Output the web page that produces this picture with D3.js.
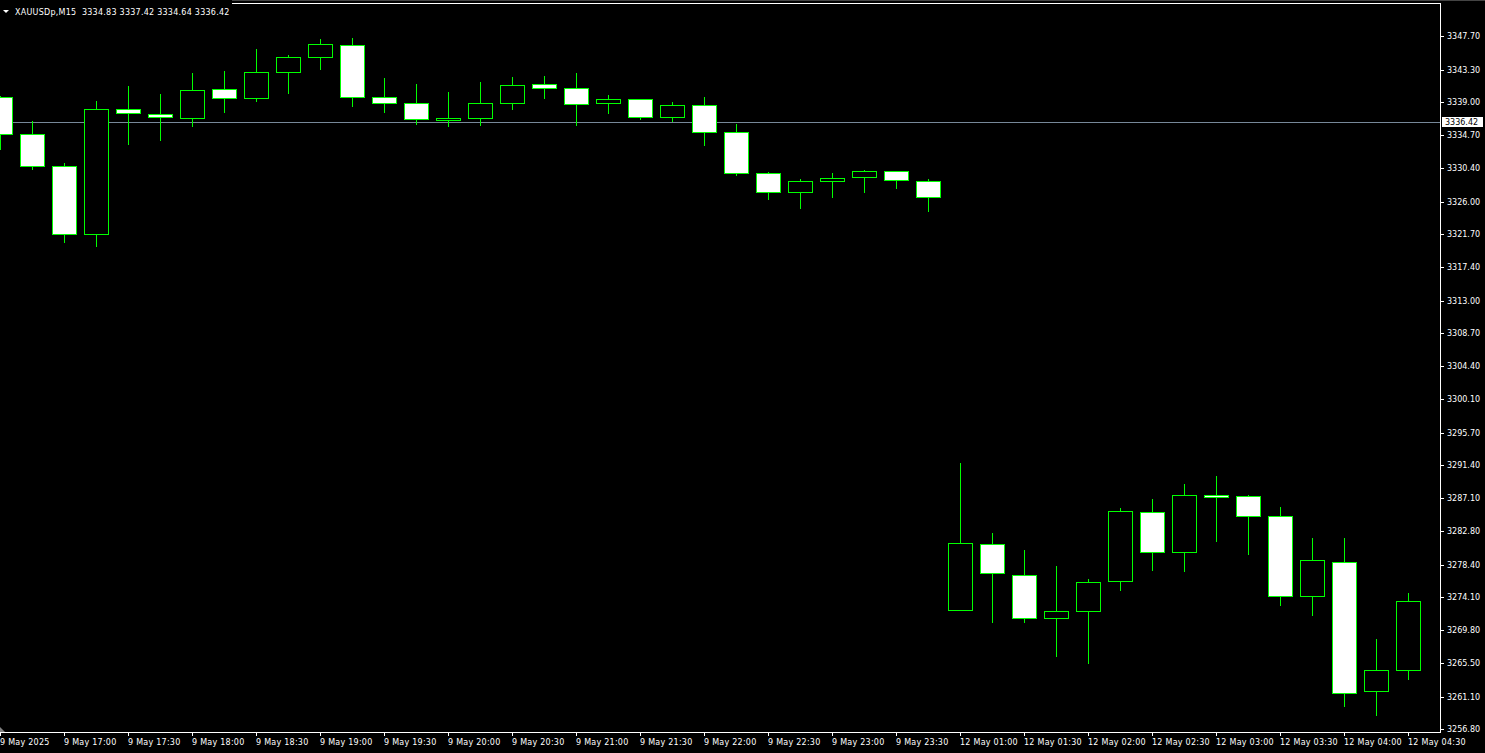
<!DOCTYPE html>
<html><head><meta charset="utf-8">
<script src="https://cdn.jsdelivr.net/npm/d3@7"></script>
<style>
html,body{margin:0;padding:0;background:#000;overflow:hidden}
svg{display:block}
text{font-family:"DejaVu Sans",sans-serif;font-size:8px;fill:#fff}
</style></head>
<body>
<script>
const symbol = "XAUUSDp,M15";
const headerOHLC = ["3334.83","3337.42","3334.64","3336.42"];
const currentPrice = 3336.42;

const times = [
 "9 May 16:30","9 May 16:45","9 May 17:00","9 May 17:15","9 May 17:30","9 May 17:45",
 "9 May 18:00","9 May 18:15","9 May 18:30","9 May 18:45","9 May 19:00","9 May 19:15",
 "9 May 19:30","9 May 19:45","9 May 20:00","9 May 20:15","9 May 20:30","9 May 20:45",
 "9 May 21:00","9 May 21:15","9 May 21:30","9 May 21:45","9 May 22:00","9 May 22:15",
 "9 May 22:30","9 May 22:45","9 May 23:00","9 May 23:15","9 May 23:30","9 May 23:45",
 "12 May 01:00","12 May 01:15","12 May 01:30","12 May 01:45","12 May 02:00","12 May 02:15",
 "12 May 02:30","12 May 02:45","12 May 03:00","12 May 03:15","12 May 03:30","12 May 03:45",
 "12 May 04:00","12 May 04:15","12 May 04:30"
];
const open = [
 3339.66,3334.81,3330.62,3321.70,3338.09,3337.43,3336.91,3340.71,3339.53,3342.94,3344.91,3346.48,
 3339.66,3338.88,3336.65,3336.91,3338.88,3341.37,3340.84,3338.88,3339.40,3337.04,3338.61,3335.07,
 3329.70,3327.21,3328.65,3329.17,3329.96,3328.65,
 3272.40,3281.06,3276.99,3271.35,3272.27,3276.20,3285.25,3280.01,3287.48,3287.35,3284.73,3274.24,
 3278.70,3261.78,3264.54
];
const high = [
 3339.83,3336.56,3331.01,3339.18,3341.14,3340.10,3342.85,3343.11,3346.00,3345.21,3347.31,3347.44,
 3342.19,3341.41,3340.36,3341.67,3342.32,3342.46,3342.85,3339.96,3339.40,3339.05,3339.70,3336.16,
 3329.83,3328.91,3329.70,3330.09,3329.96,3328.91,
 3291.72,3282.54,3280.31,3278.21,3276.51,3285.78,3286.96,3288.96,3290.01,3287.48,3285.91,3281.88,
 3281.88,3268.64,3274.63
];
const low = [
 3332.85,3330.30,3320.73,3320.21,3333.58,3334.10,3335.94,3337.77,3339.22,3340.27,3343.41,3338.56,
 3337.77,3336.20,3335.94,3336.07,3338.17,3339.61,3336.07,3337.64,3336.86,3336.60,3333.45,3329.51,
 3326.37,3325.19,3326.63,3327.29,3327.81,3324.80,
 3272.40,3270.91,3270.91,3266.45,3265.53,3275.10,3277.73,3277.60,3281.53,3279.82,3273.14,3271.83,
 3259.90,3258.72,3263.44
];
const close = [
 3334.81,3330.62,3321.70,3338.09,3337.57,3337.04,3340.58,3339.53,3342.94,3344.91,3346.61,3339.66,
 3338.88,3336.78,3336.91,3338.88,3341.24,3340.84,3338.75,3339.40,3337.04,3338.61,3335.07,3329.70,
 3327.21,3328.65,3329.04,3329.96,3328.78,3326.55,
 3281.19,3277.25,3271.35,3272.27,3276.07,3285.38,3280.01,3287.48,3287.22,3284.73,3274.24,3278.96,
 3261.52,3264.54,3273.58
];
const priceTicks = ["3347.70","3343.30","3339.00","3334.70","3330.40","3326.00","3321.70","3317.40",
 "3313.00","3308.70","3304.40","3300.10","3295.70","3291.40","3287.10","3282.80","3278.40","3274.10",
 "3269.80","3265.50","3261.10","3256.80"];
const timeTicks = ["9 May 2025","9 May 17:00","9 May 17:30","9 May 18:00","9 May 18:30","9 May 19:00",
 "9 May 19:30","9 May 20:00","9 May 20:30","9 May 21:00","9 May 21:30","9 May 22:00","9 May 22:30",
 "9 May 23:00","9 May 23:30","12 May 01:00","12 May 01:30","12 May 02:00","12 May 02:30",
 "12 May 03:00","12 May 03:30","12 May 04:00","12 May 04:30"];

const W = 1485, H = 753;
const plotR = 1440, plotT = 3, plotB = 732;
const svg = d3.select("body").append("svg").attr("width", W).attr("height", H);
svg.append("rect").attr("width", W).attr("height", H).attr("fill", "#000");

const x = d3.scaleLinear().domain([0, times.length - 1]).range([0, 32 * (times.length - 1)]);
const y = d3.scaleLinear().domain([3256.80, 3347.70]).range([729.3, 36]);

const candles = times.map((t, i) => ({i, t, o: open[i], h: high[i], l: low[i], c: close[i]}));
const px = v => Math.round(v);

// frame
svg.append("line").attr("x1", 232).attr("x2", W).attr("y1", 0.5).attr("y2", 0.5).attr("stroke", "#444");
svg.append("line").attr("x1", 232).attr("x2", plotR + 0.5).attr("y1", plotT + 0.5).attr("y2", plotT + 0.5).attr("stroke", "#fff");
svg.append("line").attr("x1", plotR + 0.5).attr("x2", plotR + 0.5).attr("y1", plotT).attr("y2", plotB + 1).attr("stroke", "#fff");
svg.append("line").attr("x1", 0).attr("x2", plotR + 1).attr("y1", plotB + 0.5).attr("y2", plotB + 0.5).attr("stroke", "#fff");

// current price line
const yc = px(y(currentPrice)) + 0.5;
svg.append("line").attr("x1", 0).attr("x2", plotR).attr("y1", yc).attr("y2", yc).attr("stroke", "#778899");

// candles
const g = svg.append("g");
const cg = g.selectAll("g.c").data(candles).join("g");
cg.append("line")
  .attr("x1", d => px(x(d.i)) + 0.5).attr("x2", d => px(x(d.i)) + 0.5)
  .attr("y1", d => px(y(d.h))).attr("y2", d => px(y(d.l)) + 1)
  .attr("stroke", "#00ff00");
cg.append("rect")
  .attr("x", d => px(x(d.i)) - 11.5)
  .attr("width", 24)
  .attr("y", d => px(y(Math.max(d.o, d.c))) + 0.5)
  .attr("height", d => Math.max(1, px(y(Math.min(d.o, d.c))) - px(y(Math.max(d.o, d.c)))))
  .attr("fill", d => d.c < d.o ? "#fff" : "#000")
  .attr("stroke", "#00ff00");

// right axis
const yAxis = d3.axisRight(y).tickValues(priceTicks.map(Number))
  .tickFormat((d, k) => priceTicks[k]).tickSize(3).tickPadding(3);
const ya = svg.append("g").attr("transform", `translate(${plotR + 1},0)`).call(yAxis);
ya.select(".domain").remove();
ya.selectAll(".tick").attr("transform", d => `translate(0,${px(y(d)) + 0.5})`);
ya.selectAll(".tick line").attr("stroke", "#fff");
ya.selectAll(".tick text").attr("fill", "#fff").style("font-family", "DejaVu Sans").style("font-size", "8px").attr("dy", "0.35em");

// current price label
svg.append("rect").attr("x", plotR + 2).attr("y", yc - 5.5).attr("width", 41).attr("height", 10).attr("fill", "#fff");
svg.append("text").attr("x", plotR + 5).attr("y", yc).attr("dy", "0.35em").style("fill", "#000").text(currentPrice.toFixed(2));

// bottom axis
const tickIdx = timeTicks.map((s, k) => k === 0 ? 0 : times.indexOf(s));
const xAxis = d3.axisBottom(x).tickValues(tickIdx).tickFormat((d, k) => timeTicks[k]).tickSize(4).tickPadding(3);
const xa = svg.append("g").attr("transform", `translate(0,${plotB})`).call(xAxis);
xa.select(".domain").remove();
xa.selectAll(".tick").attr("transform", d => `translate(${px(x(d)) + 0.5},0)`);
xa.selectAll(".tick line").attr("stroke", "#fff");
xa.selectAll(".tick text").attr("fill", "#fff").attr("text-anchor", "start").attr("x", -0.5)
  .style("font-family", "DejaVu Sans").style("font-size", "8px").style("letter-spacing", "0.25px");

// shift marker
svg.append("path").attr("d", `M0,${plotB - 5} L5,${plotB} L0,${plotB} Z`).attr("fill", "#808080");

// header
svg.append("path").attr("d", "M3,10 L9,10 L6,13 Z").attr("fill", "#fff");
svg.append("text").attr("x", 15).attr("y", 15).style("white-space", "pre").style("letter-spacing", "0.25px")
  .text(symbol + "  " + headerOHLC.join(" "));
</script>
</body></html>
